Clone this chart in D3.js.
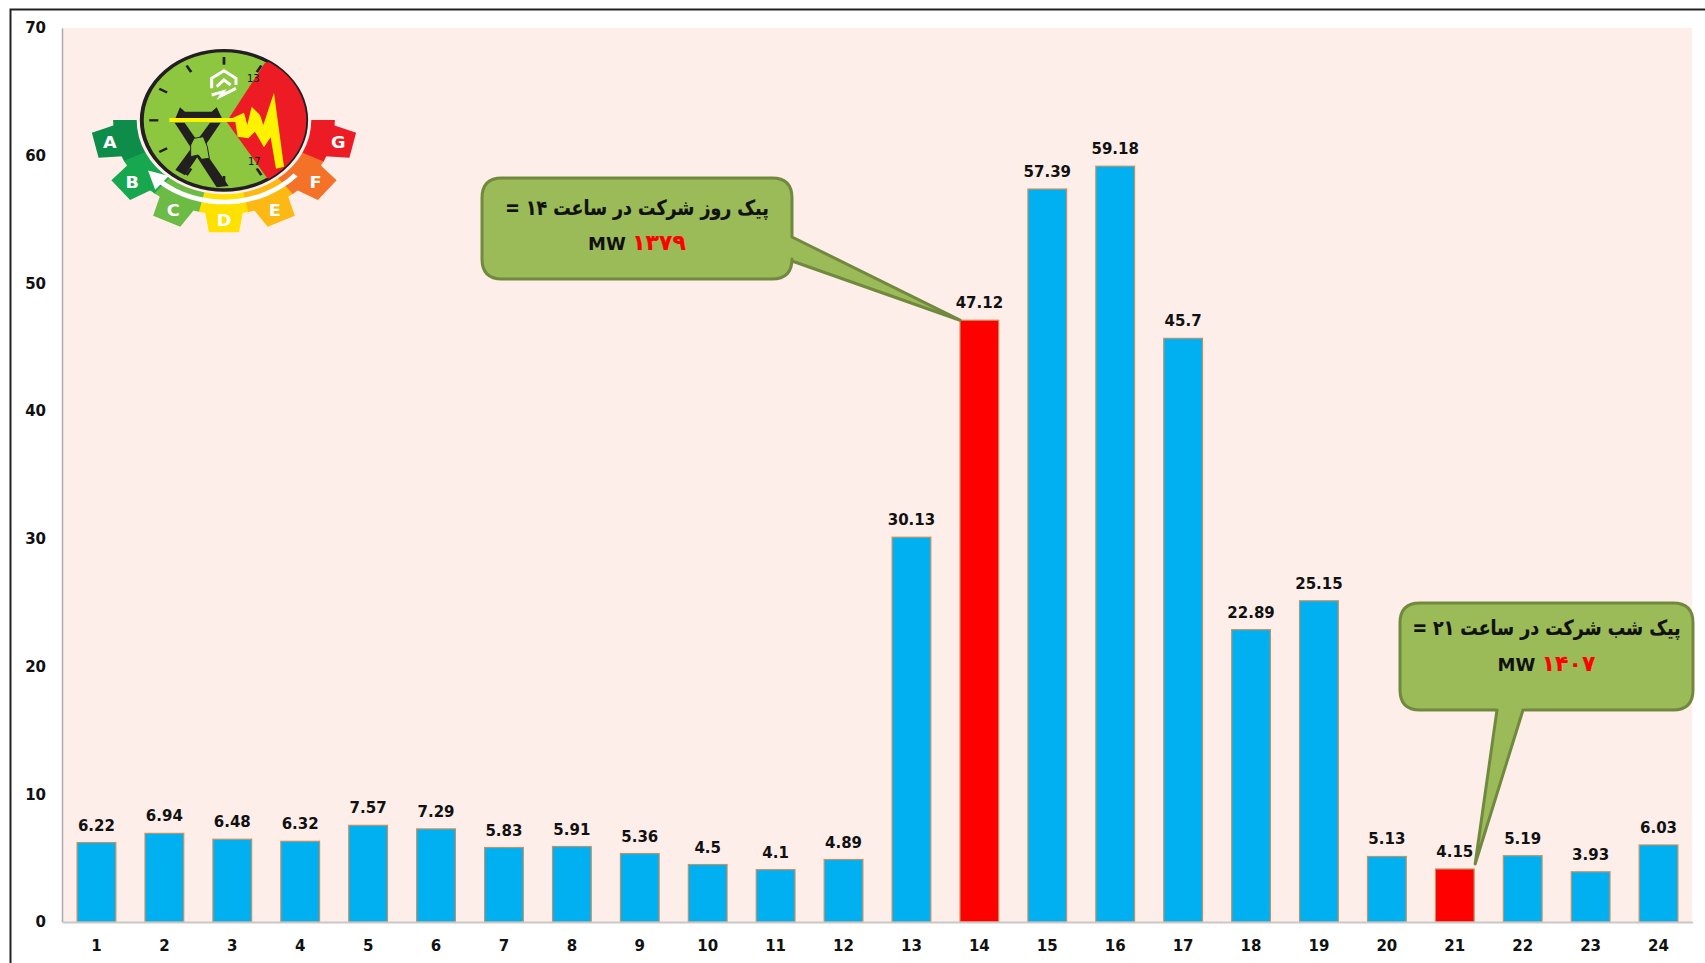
<!DOCTYPE html>
<html>
<head>
<meta charset="utf-8">
<script src="https://cdn.jsdelivr.net/npm/d3@7"></script>
<style>
  html, body { margin: 0; padding: 0; background: #fff; }
  svg { display: block; }
  text { font-family: "DejaVu Sans", sans-serif; font-weight: bold; fill: #111; }
</style>
</head>
<body>
<svg id="chart" width="1705" height="963"></svg>
<script>
const hours = ["1","2","3","4","5","6","7","8","9","10","11","12","13","14","15","16","17","18","19","20","21","22","23","24"];
const values = [6.22,6.94,6.48,6.32,7.57,7.29,5.83,5.91,5.36,4.5,4.1,4.89,30.13,47.12,57.39,59.18,45.7,22.89,25.15,5.13,4.15,5.19,3.93,6.03];
const peakHours = ["14","21"];
const yTicks = [0,10,20,30,40,50,60,70];
const gearLetters = ["A","B","C","D","E","F","G"];
const gearColors = ["#0e8c4a","#17a84f","#6cbb45","#ffe100","#fdb913","#f47128","#ed1c24"];

const svg = d3.select("#chart");
const plot = { left: 62, right: 1692, top: 28, bottom: 922 };

const x = d3.scaleBand().domain(hours).range([plot.left + 0.5, plot.right + 0.5]).paddingInner(0.43).paddingOuter(0.215);
const y = d3.scaleLinear().domain([0, 70]).range([plot.bottom, plot.top]);

// outer frame, only top and left are visible
svg.append("path").attr("d", "M10.5,963V9.5H1705").attr("fill", "none").attr("stroke", "#222").attr("stroke-width", 2);

svg.append("rect")
  .attr("x", plot.left).attr("y", plot.top)
  .attr("width", plot.right - plot.left).attr("height", plot.bottom - plot.top)
  .attr("fill", "#fdeee9");

svg.selectAll("rect.bar").data(values).enter().append("rect")
  .attr("class", "bar")
  .attr("x", (d, i) => x(hours[i]))
  .attr("y", d => y(d))
  .attr("width", x.bandwidth())
  .attr("height", d => y(0) - y(d))
  .attr("fill", (d, i) => peakHours.includes(hours[i]) ? "#ff0000" : "#00b0f0")
  .attr("stroke", "#c8905f")
  .attr("stroke-width", 1.2);

svg.selectAll("text.val").data(values).enter().append("text")
  .attr("class", "val")
  .attr("x", (d, i) => x(hours[i]) + x.bandwidth() / 2)
  .attr("y", d => y(d) - 12)
  .attr("text-anchor", "middle")
  .attr("font-size", 15)
  .text(d => d);

const yAxis = svg.append("g").attr("transform", `translate(${plot.left},0)`)
  .call(d3.axisLeft(y).tickValues(yTicks).tickSize(0).tickPadding(16));
yAxis.select(".domain").attr("stroke", "#aaa").attr("stroke-width", 1.5);
yAxis.selectAll("text").attr("font-size", 15).attr("font-family", "DejaVu Sans").attr("fill", "#111");

const xAxis = svg.append("g").attr("transform", `translate(0,${plot.bottom})`)
  .call(d3.axisBottom(x).tickSize(0).tickPadding(18));
xAxis.select(".domain").attr("stroke", "#c8c8c8").attr("stroke-width", 2);
xAxis.selectAll("text").attr("font-size", 15).attr("font-family", "DejaVu Sans").attr("fill", "#111");

// callouts
function callout(box, tail, line1, red, lineYs) {
  const r = 20;
  const { x0, x1, y0, y1 } = box;
  const p = d3.path();
  p.moveTo(x0 + r, y0);
  p.lineTo(x1 - r, y0);
  p.quadraticCurveTo(x1, y0, x1, y0 + r);
  if (tail.side === "right") {
    p.lineTo(x1, tail.a);
    p.lineTo(tail.x, tail.y);
    p.lineTo(x1, tail.b);
  }
  p.lineTo(x1, y1 - r);
  p.quadraticCurveTo(x1, y1, x1 - r, y1);
  if (tail.side === "bottom") {
    p.lineTo(tail.b, y1);
    p.lineTo(tail.x, tail.y);
    p.lineTo(tail.a, y1);
  }
  p.lineTo(x0 + r, y1);
  p.quadraticCurveTo(x0, y1, x0, y1 - r);
  p.lineTo(x0, y0 + r);
  p.quadraticCurveTo(x0, y0, x0 + r, y0);
  p.closePath();
  svg.append("path").attr("d", p.toString())
    .attr("fill", "#9bbb59").attr("stroke", "#71893f").attr("stroke-width", 3).attr("stroke-linejoin", "round");

  const cx = (x0 + x1) / 2;
  svg.append("text").attr("transform", `translate(${cx},${lineYs[0]}) scale(0.94,1.12)`)
    .attr("text-anchor", "middle").attr("direction", "rtl")
    .attr("font-size", 18.5).attr("fill", "#000")
    .attr("stroke", "#000").attr("stroke-width", 0.2).text(line1);
  const t = svg.append("text").attr("x", cx).attr("y", lineYs[1])
    .attr("text-anchor", "middle").attr("font-size", 18).attr("fill", "#000");
  t.append("tspan").text("MW ");
  t.append("tspan").attr("fill", "#ff0000").attr("stroke", "#ff0000").attr("stroke-width", 0.2).attr("font-size", 22).text(red);
}

callout({ x0: 482, x1: 792, y0: 178, y1: 279 },
  { side: "right", a: 237, b: 261, x: x("14"), y: y(47.12) },
  "پیک روز شرکت در ساعت ۱۴ =", "۱۳۷۹", [215, 250]);
callout({ x0: 1400, x1: 1693, y0: 603, y1: 710 },
  { side: "bottom", a: 1497, b: 1523, x: x("21") + x.bandwidth() + 1, y: y(4.15) - 5 },
  "پیک شب شرکت در ساعت ۲۱ =", "۱۴۰۷", [635, 671]);

// logo, drawn in the coordinates of a 3x crop then scaled down
const logo = svg.append("g").attr("transform", "translate(70,30) scale(0.3333)");
const rad = a => a * Math.PI / 180;
const gear = logo.append("g").attr("transform", "translate(462,271) scale(1.18,1)");
const step = 180 / 7;
const polar = (r, a) => [r * Math.sin(rad(a)), -r * Math.cos(rad(a))];
const segArc = d3.arc().innerRadius(222).outerRadius(282);

gearLetters.forEach((letter, i) => {
  const mid = 270 - step * (i + 0.5);
  gear.append("path")
    .attr("d", segArc({ startAngle: rad(mid - step / 2 - 0.2), endAngle: rad(mid + step / 2 + 0.2) }))
    .attr("fill", gearColors[i]);
  gear.append("path")
    .attr("d", d3.line()([polar(278, mid - 10), polar(338, mid - 6.5), polar(338, mid + 6.5), polar(278, mid + 10)]))
    .attr("fill", gearColors[i]);
  const pos = polar(298, mid);
  gear.append("text").attr("transform", `translate(${pos[0]},${pos[1]}) scale(0.9,1)`)
    .attr("text-anchor", "middle").attr("dy", "0.36em")
    .attr("font-size", 50).style("fill", "#fff").text(letter);
});

// white arrow running through the ring
gear.append("path")
  .attr("d", d3.arc().innerRadius(238).outerRadius(252)({ startAngle: rad(132), endAngle: rad(222) }))
  .attr("fill", "#fff");
gear.append("path")
  .attr("d", d3.line()([polar(245, 232), polar(218, 220), polar(272, 220)]))
  .attr("fill", "#fff");

const clock = logo.append("g").attr("transform", "translate(462,271) scale(1.18,1)");
clock.append("circle").attr("r", 209).attr("fill", "#8dc63f");
logo.append("clipPath").attr("id", "faceLogo").append("ellipse")
  .attr("cx", 462).attr("cy", 271).attr("rx", 247).attr("ry", 209);
logo.append("path").attr("clip-path", "url(#faceLogo)")
  .attr("d", "M470,275L584,100L720,60L720,480L592,445Z").attr("fill", "#ed1c24");

// crossed arms
logo.append("path").attr("d", "M330,232L345,245L425,245L440,232L456,265L312,275Z").attr("fill", "#231f20");
logo.append("path").attr("d", "M314,278L344,278L476,468L440,472Z").attr("fill", "#231f20");
logo.append("path").attr("d", "M420,278L452,278L345,436L316,420Z").attr("fill", "#231f20");
logo.append("path").attr("d", "M362,345L372,325L400,320L412,350L418,385L395,388L385,375L362,380Z")
  .attr("fill", "#8dc63f").attr("stroke", "#231f20").attr("stroke-width", 3);

// lightning and hand
logo.append("path")
  .attr("d", "M298,264H488L522,248L532,285L545,230L570,255L580,285L612,188L642,410L618,416L602,322L582,352L555,305L535,325L503,320L496,276H298Z")
  .attr("fill", "#fff200");

d3.range(12).forEach(i => {
  const a = i * 30;
  const inner = polar(167, a), outer = polar(190, a);
  clock.append("line")
    .attr("x1", inner[0]).attr("y1", inner[1]).attr("x2", outer[0]).attr("y2", outer[1])
    .attr("stroke", "#231f20").attr("stroke-width", 7);
});
clock.append("circle").attr("r", 209).attr("fill", "none").attr("stroke", "#231f20").attr("stroke-width", 10);

logo.append("text").attr("x", 550).attr("y", 157).attr("text-anchor", "middle").attr("font-size", 30)
  .style("font-weight", "normal").text("13");
logo.append("text").attr("x", 553).attr("y", 405).attr("text-anchor", "middle").attr("font-size", 30)
  .style("font-weight", "normal").text("17");
// house mark on the clock face
logo.append("path")
  .attr("d", "M425,175V145L462,122L498,145V165M440,170L462,150L482,165M425,195L460,185L452,198L498,175")
  .attr("fill", "none").attr("stroke", "#fff").attr("stroke-width", 9);
</script>
</body>
</html>
